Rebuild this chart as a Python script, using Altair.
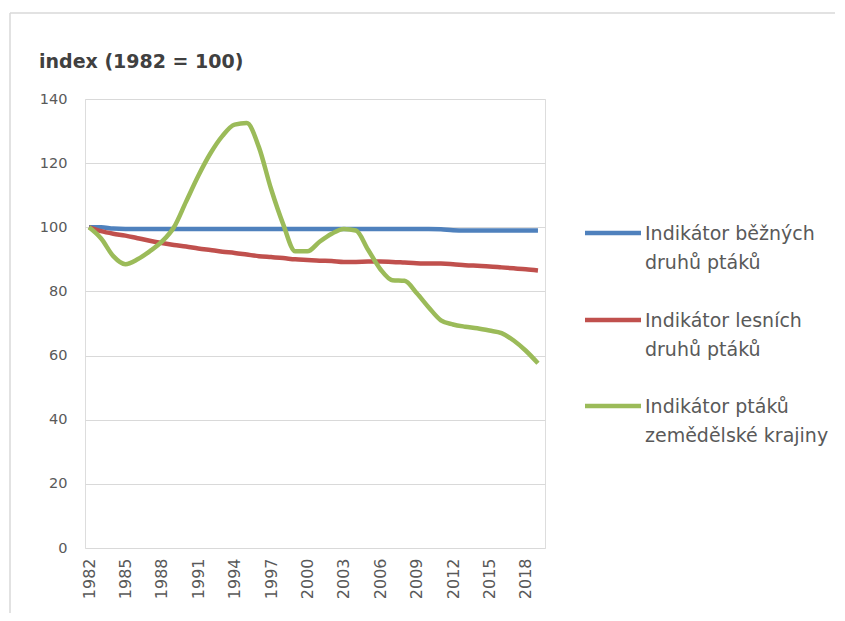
import altair as alt
import pandas as pd

years = list(range(1982, 2020))

common_birds = [100, 100, 99.6, 99.5, 99.5, 99.5, 99.5, 99.5, 99.5, 99.5,
                99.5, 99.5, 99.5, 99.5, 99.5, 99.5, 99.5, 99.5, 99.5, 99.5,
                99.5, 99.5, 99.5, 99.5, 99.5, 99.5, 99.5, 99.5, 99.5, 99.4,
                99.1, 99.0, 99.0, 99.0, 99.0, 99.0, 99.0, 99.0]

forest_birds = [100, 98.8, 98.0, 97.4, 96.6, 95.8, 95.1, 94.5, 94.0, 93.4,
                92.9, 92.4, 92.0, 91.5, 91.0, 90.7, 90.4, 90.0, 89.8, 89.6,
                89.5, 89.2, 89.2, 89.3, 89.3, 89.2, 89.0, 88.8, 88.7, 88.7,
                88.5, 88.2, 88.0, 87.8, 87.5, 87.2, 86.9, 86.5]

farmland_birds = [100, 96.5, 91.0, 88.5, 90.0, 92.5, 95.5, 100.0, 108.0, 116.0,
                  123.0, 128.5, 132.0, 132.5, 125.0, 112.0, 101.0, 92.5, 92.5, 95.5,
                  98.0, 99.5, 99.0, 93.0, 87.0, 83.5, 83.3, 79.5, 75.0, 71.0,
                  69.7, 69.0, 68.5, 67.8, 67.0, 64.7, 61.5, 57.6]

series_names = [
    "Indikátor běžných\ndruhů ptáků",
    "Indikátor lesních\ndruhů ptáků",
    "Indikátor ptáků\nzemědělské krajiny",
]
series_colors = ["#4F81BD", "#C0504D", "#9BBB59"]
x_tick_years = list(range(1982, 2019, 3))
y_ticks = [0, 20, 40, 60, 80, 100, 120, 140]
y_title = "index (1982 = 100)"

rows = []
for name, vals in zip(series_names, [common_birds, forest_birds, farmland_birds]):
    for y, v in zip(years, vals):
        rows.append({"year": y, "value": v, "series": name})
df = pd.DataFrame(rows)

FONT = "DejaVu Sans"
LABEL_COLOR = "#595959"
GRID = "#D9D9D9"

color_scale = alt.Scale(domain=series_names, range=series_colors)

lines = alt.Chart(df).mark_line(strokeWidth=4.5, interpolate="monotone").encode(
    x=alt.X("year:Q",
            scale=alt.Scale(domain=[1981.67, 2019.58], nice=False, zero=False),
            axis=alt.Axis(values=x_tick_years, format="d", labelAngle=-90,
                          labelAlign="right", labelBaseline="middle",
                          labelPadding=10, grid=False, ticks=False, domain=False,
                          title=None, labelFont=FONT, labelFontSize=16,
                          labelColor=LABEL_COLOR, labelOverlap=False)),
    y=alt.Y("value:Q",
            scale=alt.Scale(domain=[0, 140], nice=False),
            axis=alt.Axis(values=y_ticks, grid=True, gridColor=GRID,
                          ticks=False, domain=False, title=None,
                          labelPadding=18, labelFont=FONT, labelFontSize=14.5,
                          labelColor=LABEL_COLOR)),
    color=alt.Color("series:N", scale=color_scale, legend=None),
    detail="series:N",
)

one = alt.Data(values=[{}])

# frame of the chart area (top and left edges visible)
frame_top = alt.Chart(one).mark_rule(color=GRID, strokeWidth=1.5).encode(
    x=alt.value(-75), x2=alt.value(770), y=alt.value(-86))
frame_left = alt.Chart(one).mark_rule(color=GRID, strokeWidth=1.5).encode(
    x=alt.value(-75), y=alt.value(-86), y2=alt.value(530))

title = alt.Chart(one).mark_text(
    text=y_title, font=FONT, fontSize=19, fontWeight="bold", color="#404040",
    align="left", baseline="middle").encode(x=alt.value(-46), y=alt.value(-37))

legend_layers = []
legend_y = [134, 221, 307]
for name, col, ly in zip(series_names, series_colors, legend_y):
    legend_layers.append(
        alt.Chart(one).mark_rule(color=col, strokeWidth=4.5).encode(
            x=alt.value(500), x2=alt.value(556), y=alt.value(ly)))
    legend_layers.append(
        alt.Chart(one).mark_text(
            text=name, lineBreak="\n", lineHeight=28.5, font=FONT, fontSize=19,
            color=LABEL_COLOR, align="left", baseline="top").encode(
            x=alt.value(560), y=alt.value(ly - 8)))

chart = alt.layer(frame_top, frame_left, lines, title, *legend_layers).properties(
    width=460, height=449,
    autosize=alt.AutoSizeParams(type="none"),
    padding={"left": 77, "top": 91, "right": 290, "bottom": 65},
).configure_view(stroke=None).configure(background="white")

chart.save("out.html", embed_options={"renderer": "svg", "actions": False})
